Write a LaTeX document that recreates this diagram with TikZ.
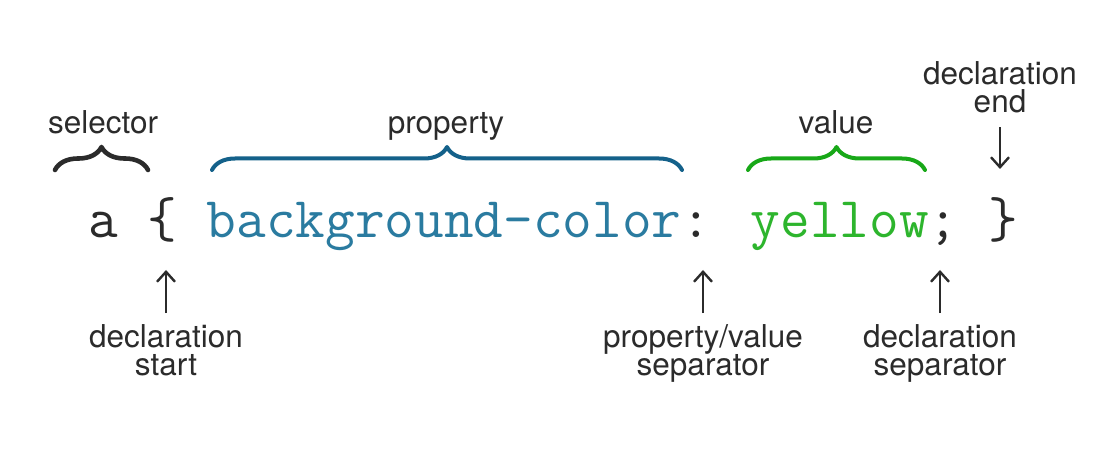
\documentclass[tikz,border=0pt]{standalone}
\usepackage{fontspec}
\setmainfont{TeX Gyre Heros}
\usetikzlibrary{decorations.pathreplacing,arrows.meta}
\definecolor{ink}{HTML}{2B2B2B}
\definecolor{propblue}{HTML}{2A7BA0}
\definecolor{bracebl}{HTML}{14618A}
\definecolor{valgreen}{HTML}{2DB52D}
\definecolor{bracegr}{HTML}{18A818}
\begin{document}
\begin{tikzpicture}[x=1pt,y=-1pt,
  lbl/.style={font=\fontsize{31.5}{28.5}\selectfont, text=ink, inner sep=0pt, align=center},
  code/.style={font=\fontsize{57.6}{60}\ttfamily, inner sep=0pt},
  arr/.style={draw=ink, line width=2.4pt, -{Straight Barb[length=10pt,width=18pt]}},
  brc/.style={decorate, decoration={brace, amplitude=23pt, aspect=0.5}, line width=4pt, line cap=round, line join=round}]
\useasboundingbox (0,0) rectangle (1101,457);
\fill[white] (0,0) rectangle (1101,457);
% code line
\node[code, anchor=base west] (code) at (88,238)
  {{\color{ink}a \{ }{\color{propblue}background-color}{\color{ink}:} {\color{valgreen}yellow}{\color{ink}; \}}};
% braces
\coordinate (selL) at (55,170); \coordinate (selR) at (148,170);
\coordinate (propL) at (212,170); \coordinate (propR) at (682,170);
\coordinate (valL) at (748,170); \coordinate (valR) at (925,170);
\draw[brc, draw=ink, line width=4.6pt] (selL) -- (selR);
\draw[brc, draw=bracebl] (propL) -- (propR);
\draw[brc, draw=bracegr] (valL) -- (valR);
% upper labels
\node[lbl, anchor=base] (sel) at (103,134) {selector};
\node[lbl, anchor=base] (prop) at (446,134) {property};
\node[lbl, anchor=base] (val) at (836,134) {value};
\node[lbl, anchor=north] (dend) at (1000,61) {declaration\\end};
\coordinate (endtip) at (1000,169);
\draw[arr, shorten <=14pt] (dend.south) -- (endtip);
% lower labels
\node[lbl, anchor=north] (dstart) at (166,324) {declaration\\start};
\node[lbl, anchor=north] (pvsep) at (703,324) {property/value\\separator};
\node[lbl, anchor=north] (dsep) at (940,324) {declaration\\separator};
\coordinate (t1) at (166,270);
\coordinate (t2) at (703,270);
\coordinate (t3) at (940,270);
\draw[arr, shorten <=11pt] (dstart.north) -- (t1);
\draw[arr, shorten <=11pt] (pvsep.north) -- (t2);
\draw[arr, shorten <=11pt] (dsep.north) -- (t3);
\end{tikzpicture}
\end{document}
